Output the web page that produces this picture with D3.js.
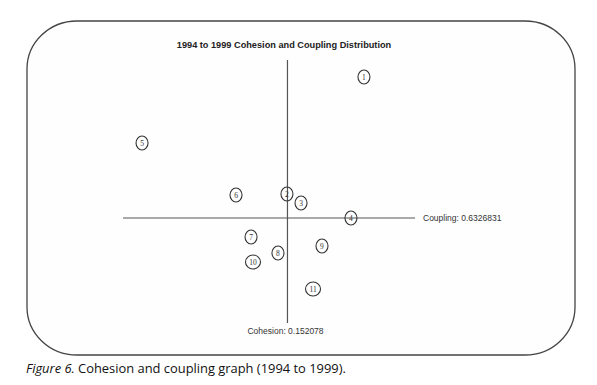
<!DOCTYPE html>
<html>
<head>
<meta charset="utf-8">
<script src="https://cdn.jsdelivr.net/npm/d3@7"></script>
<style>
  body { margin: 0; background: #fff; }
  svg { display: block; }
</style>
</head>
<body>
<svg id="chart" width="597" height="385"></svg>
<script>
// values
var labels   = ["1", "2", "3", "4", "5", "6", "7", "8", "9", "10", "11"];
var cohesion = [0.2228, 0.1516, 0.1646, 0.2108, 0.0176, 0.1045, 0.1184, 0.1433, 0.1840, 0.1202, 0.1757];
var coupling = [1.4825, 0.7774, 0.7232, 0.6328, 1.0848, 0.7714, 0.5183, 0.4219, 0.4640, 0.3676, 0.2049];
var cohesionMean = 0.152078;
var couplingMean = 0.6326831;
var title = "1994 to 1999 Cohesion and Coupling Distribution";

var svg = d3.select("#chart");

// rounded frame
svg.append("rect")
	.attr("x", 27).attr("y", 21)
	.attr("width", 548).attr("height", 334)
	.attr("rx", 50).attr("ry", 48)
	.attr("fill", "#fefefe")
	.attr("stroke", "#444")
	.attr("stroke-width", 1.3);

var x = d3.scaleLinear().domain([0, 0.27]).range([123, 415]);
var y = d3.scaleLinear().domain([0, 1.585]).range([323, 60]);

var pts = labels.map(function(l, i){
	return {label: l, cohesion: cohesion[i], coupling: coupling[i]};
});

svg.append("text")
	.attr("x", 284).attr("y", 48)
	.attr("text-anchor", "middle")
	.style("font-family", "Liberation Sans, Arial, sans-serif")
	.style("font-size", "9.2px")
	.style("font-weight", "bold")
	.attr("fill", "#222")
	.text(title);

// mean lines
svg.append("line")
	.attr("x1", x(cohesionMean)).attr("x2", x(cohesionMean))
	.attr("y1", y.range()[1]).attr("y2", y.range()[0])
	.attr("stroke", "#555").attr("stroke-width", 1.2);

svg.append("line")
	.attr("x1", x.range()[0]).attr("x2", x.range()[1])
	.attr("y1", y(couplingMean)).attr("y2", y(couplingMean))
	.attr("stroke", "#555").attr("stroke-width", 1.2);

svg.append("text")
	.attr("x", x.range()[1] + 8).attr("y", y(couplingMean) + 3)
	.style("font-family", "Liberation Sans, Arial, sans-serif")
	.style("font-size", "8.5px")
	.attr("fill", "#333")
	.text("Coupling: " + couplingMean);

svg.append("text")
	.attr("x", x(cohesionMean) - 40).attr("y", y.range()[0] + 11)
	.style("font-family", "Liberation Sans, Arial, sans-serif")
	.style("font-size", "8.5px")
	.attr("fill", "#333")
	.text("Cohesion: " + cohesionMean);

// points
var g = svg.selectAll(".pt")
	.data(pts)
	.enter().append("g")
	.attr("class", "pt")
	.attr("transform", function(d){ return "translate(" + x(d.cohesion) + "," + y(d.coupling) + ")"; });

g.append("ellipse")
	.attr("rx", function(d){ return d.label.length > 1 ? 7.5 : 6; })
	.attr("ry", 7)
	.attr("fill", "none")
	.attr("stroke", "#333")
	.attr("stroke-width", 1.1);

g.append("text")
	.attr("text-anchor", "middle")
	.attr("y", 2.6)
	.style("font-family", "Liberation Serif, Times New Roman, serif")
	.style("font-size", "7.5px")
	.attr("fill", "#333")
	.text(function(d){ return d.label; });

// caption
var cap = svg.append("text")
	.attr("x", 26).attr("y", 373)
	.style("font-family", "Open Sans, sans-serif")
	.style("font-size", "12.9px")
	.attr("fill", "#111");
cap.append("tspan").style("font-style", "italic").text("Figure 6.");
cap.append("tspan").text(" Cohesion and coupling graph (1994 to 1999).");
</script>
</body>
</html>
